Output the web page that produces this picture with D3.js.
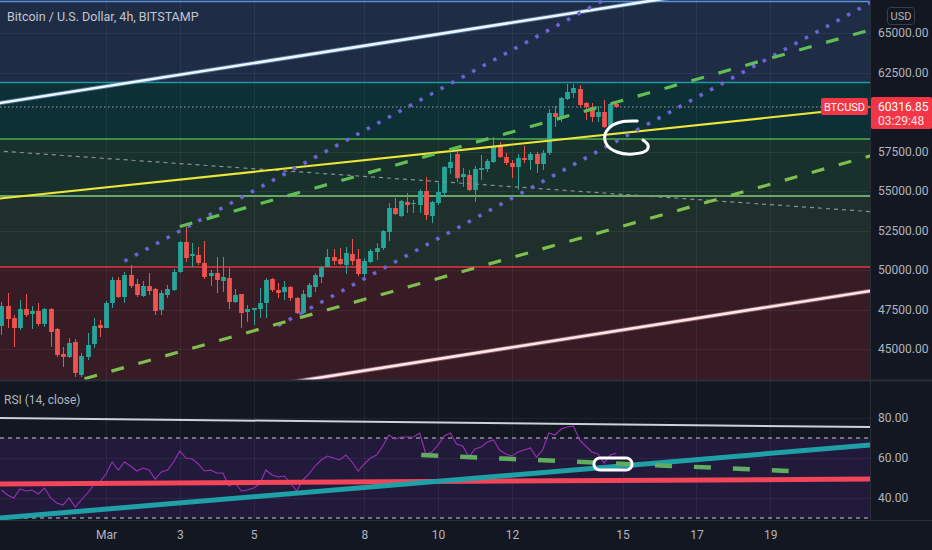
<!DOCTYPE html>
<html><head><meta charset="utf-8">
<script src="https://cdn.jsdelivr.net/npm/d3@7"></script>
<style>
html,body{margin:0;padding:0;background:#131722;}
svg{display:block;}
text{font-family:"Liberation Sans Narrow","Roboto","Liberation Sans",sans-serif;}
</style>
</head><body>
<svg id="c" width="932" height="550"></svg>
<script>
// ---------------- DATA ----------------
const title = "Bitcoin / U.S. Dollar, 4h, BITSTAMP";
const rsiTitle = "RSI (14, close)";
const firstCandle = "2021-02-26T04:00";   // 4h candles
const opens  = [46456,47722,46962,46329,47532,47216,47405,46583,47532,46266,44684,44494,45444,43356,44494,45317,46519,46329,47912,49368,48292,49684,49114,48355,48988,48798,47469,48418,48735,49874,51772,50887,50950,50444,49621,49811,49304,49494,47975,48481,47342,47469,47532,47912,49431,48735,48608,48925,48228,47279,48292,48925,49557,50190,50823,50697,50317,51013,50697,49747,50507,51140,51393,52405,53924,53418,54304,54178,54114,55001,53418,54241,54874,56456,57342,55887,56013,55064,56330,56393,56836,57912,57152,56773,56519,57089,56963,57342,56709,57405,59937,59557,60823,61203,61456,60570,60317,59684,59999,59050,60507];
const highs  = [47975,48545,47152,48102,48481,47722,47912,47595,47595,46329,45127,45697,45633,44747,46013,46962,46836,48038,49557,49557,49874,50317,49431,49304,49811,48861,48735,49051,50064,51835,52722,51709,51456,51835,50001,50823,50823,50127,48798,48481,47785,47595,48861,49494,49494,49178,49304,48988,48292,48735,49178,49811,50254,51329,51329,51393,51456,51962,51329,50760,51329,51709,52532,54241,54558,54431,54874,54431,55127,55887,54368,55507,56583,57405,57469,56456,56330,56583,57279,57026,58418,58102,57405,56963,57342,57848,57469,57469,57595,60190,60380,60950,61773,61773,61710,60633,60570,60380,60760,60570,60570];
const lows   = [45887,46329,45127,46203,47026,46266,46456,46393,45127,44494,43862,44431,43229,43229,44305,45064,45760,46329,47595,48228,47912,48861,48292,48292,48418,47152,47152,48228,48671,49811,50507,50190,50317,49431,48988,48545,48608,47532,47912,46329,46709,46519,46962,46962,48608,48228,48102,48038,47216,47216,48228,48608,49178,50190,50317,50317,49747,50317,49621,49368,50444,50634,51266,51835,53481,53355,53608,53608,53608,53165,52975,54114,54748,56077,55570,55254,55001,54304,55697,56203,56773,57089,56646,55823,55064,56773,56330,56140,56330,57279,59050,59367,60760,60887,60317,59494,59367,59367,58987,58987,60317];
const closes = [47722,46899,46329,47532,47152,47405,46583,47532,46076,44621,44494,45380,43482,44558,45254,46456,46329,47912,49368,48292,49684,48988,48418,48988,48671,47405,48545,48798,49874,51772,50760,51013,50444,49557,49811,49368,49557,47975,48418,47279,47532,47595,47912,49368,48735,48545,48925,48228,47279,48481,49051,49684,50190,50823,50570,50380,51076,50570,49747,50570,51203,51393,52469,53924,53544,54368,54114,54241,55001,53481,54304,54937,56519,56836,55823,56077,55064,56393,56456,56899,57785,57152,56773,56519,57089,56963,57342,56709,57405,59937,59684,60887,61266,61519,60444,60317,59684,59999,59050,60507,60317];
const rsiValues = [44,41.5,40,44.5,43.5,44,42,45,40,37.5,36.5,40,35.5,39,42.5,46.5,48,52,58,54,58,56,53.5,55,54,49.5,53,54,58,63.5,60,59.5,57,53.5,54,52.5,52.5,46,47.5,43.5,44,45,47,54,51.5,50.5,51,47.5,43.5,49,52,56,59,61,60,59,61.5,58,53.5,57,60,61.5,66,71.5,69.5,70.5,70.5,70.5,72.5,62,63,66.5,71,72.5,67,66,60.5,64.5,65.5,68,69,64,62,61,63,64,65,60.5,64,72.5,71.5,74.5,75.5,76,69,66,63,62,57.5,61.5,62.5];
const lastPrice = 60316.85;
const countdown = "03:29:48";
const symbol = "BTCUSD";
const currency = "USD";
const priceTicks = [45000,47500,50000,52500,55000,57500,62500,65000];
const rsiTicks = [40,60,80];
const rsiBandLevels = [70,30];
const dateTicks  = ["2021-03-01T00:00","2021-03-03T00:00","2021-03-05T00:00","2021-03-08T00:00","2021-03-10T00:00","2021-03-12T00:00","2021-03-15T00:00","2021-03-17T00:00","2021-03-19T00:00"];
const dateLabels = ["Mar","3","5","8","10","12","15","17","19"];
// horizontal zones (price from, price to)
const zones = [[61870,68000],[58290,61870],[54685,58290],[50190,54685],[40000,50190]];
// horizontal levels
const levels = [66990,61870,58290,54685,50190];
// trend lines: two anchors [time, price]
const whiteChannel  = [["2021-02-27T00:00",60890],["2021-03-20T00:00",68590]];
const pinkChannel   = [["2021-02-27T00:00",40320],["2021-03-20T00:00",48045]];
const yellowLine    = [["2021-02-27T00:00",54740],["2021-03-20T00:00",59905]];
const greyLine      = [["2021-02-27T00:00",57385],["2021-03-20T00:00",53975]];
const purpleUpper   = [["2021-03-01T12:00",50560],["2021-03-09T00:00",60100]];
const purpleLower   = [["2021-03-05T16:00",46475],["2021-03-14T00:00",57090]];
const greenUpper    = [["2021-03-03T00:00",52750],["2021-03-14T00:00",60070]];
const greenLower    = [["2021-02-28T10:00",43115],["2021-03-14T00:00",52115]];
const handCircle    = [["2021-03-15T09:30",59430],["2021-03-14T23:00",59370],["2021-03-14T15:50",59050],["2021-03-14T12:30",58544],["2021-03-14T13:50",57911],["2021-03-14T20:20",57468],["2021-03-15T06:45",57342],["2021-03-15T15:50",57595],["2021-03-15T16:30",57911],["2021-03-15T13:15",58228]];
// RSI pane lines
const rsiWhite  = [["2021-02-27T00:00",79.85],["2021-03-20T00:00",75.8]];
const rsiRed    = [["2021-02-27T00:00",47.1],["2021-03-20T00:00",49.3]];
const rsiTeal   = [["2021-02-27T00:00",31.35],["2021-03-20T00:00",63.85]];
const rsiGreen  = [["2021-03-09T13:00",61.5],["2021-03-19T12:00",53.5]];
const rsiMarker = [["2021-03-14T05:20",60],["2021-03-15T06:10",54]];

// ---------------- LAYOUT ----------------
const W = 932, H = 550, plotW = 870;
const mainH = 380, rsiTop = 381, rsiBottom = 520;
const pt = d3.utcParse("%Y-%m-%dT%H:%M");
const svg = d3.select("#c");

const x = d3.scaleUtc()
  .domain([pt("2021-02-26T03:04"), pt("2021-03-21T16:54")])
  .range([0, plotW]);
const y = d3.scaleLinear().domain([43038, 67089]).range([mainH, 0]);
const yr = d3.scaleLinear().domain([29, 99]).range([rsiBottom, rsiTop - 1]);

const t0 = pt(firstCandle).getTime();
const times = opens.map((_, i) => new Date(t0 + i * 4 * 3600e3));

svg.append("rect").attr("width", W).attr("height", H).attr("fill", "#131722");

const defs = svg.append("defs");
defs.append("clipPath").attr("id", "clipMain").append("rect")
  .attr("x", 0).attr("y", 0).attr("width", plotW).attr("height", mainH);
defs.append("clipPath").attr("id", "clipRsi").append("rect")
  .attr("x", 0).attr("y", rsiTop).attr("width", plotW).attr("height", rsiBottom - rsiTop);

const gMain = svg.append("g").attr("clip-path", "url(#clipMain)");
const gRsi = svg.append("g").attr("clip-path", "url(#clipRsi)");

// zones
const zoneFills = ["#1e2c46", "#0d2f36", "#19312c", "#1f302c", "#371c26"];
zones.forEach((z, i) => {
  gMain.append("rect").attr("x", 0).attr("width", plotW)
    .attr("y", y(z[1])).attr("height", y(z[0]) - y(z[1]))
    .attr("fill", zoneFills[i]);
});

// grid
const gridCol = "rgba(255,255,255,0.055)";
priceTicks.forEach(p => {
  gMain.append("line").attr("x1", 0).attr("x2", plotW).attr("y1", Math.round(y(p)) + 0.5).attr("y2", Math.round(y(p)) + 0.5)
    .attr("stroke", gridCol);
});
dateTicks.forEach(d => {
  const xx = Math.round(x(pt(d))) + 0.5;
  gMain.append("line").attr("x1", xx).attr("x2", xx).attr("y1", 0).attr("y2", mainH).attr("stroke", gridCol);
});

// levels
const levelCols = ["#5a8fd6", "#1f9aa3", "#4caf50", "#86cf7e", "#e8353f"];
const levelW = [1.5, 1.5, 1.3, 1.3, 1.6];
levels.forEach((p, i) => {
  gMain.append("line").attr("x1", 0).attr("x2", plotW).attr("y1", y(p)).attr("y2", y(p))
    .attr("stroke", levelCols[i]).attr("stroke-width", levelW[i]);
});

// last price line
gMain.append("line").attr("x1", 0).attr("x2", plotW).attr("y1", y(lastPrice)).attr("y2", y(lastPrice))
  .attr("stroke", "#cdbfc6").attr("stroke-width", 1).attr("stroke-dasharray", "1.5,2.5").attr("opacity", 0.8);

// candles
const up = "#26a69a", dn = "#ef5350";
const cg = gMain.append("g");
times.forEach((t, i) => {
  const cx = Math.round(x(t)) + 0.5;
  const col = closes[i] >= opens[i] ? up : dn;
  cg.append("line").attr("x1", cx).attr("x2", cx).attr("y1", y(highs[i])).attr("y2", y(lows[i]))
    .attr("stroke", col).attr("stroke-width", 1);
  const top = y(Math.max(opens[i], closes[i])), bot = y(Math.min(opens[i], closes[i]));
  cg.append("rect").attr("x", cx - 2.4).attr("width", 4.8)
    .attr("y", top).attr("height", Math.max(1, bot - top)).attr("fill", col);
});

// trend line helper
function trend(g, xs, ys, pts, ext) {
  const xa = xs(pt(pts[0][0])), ya = ys(pts[0][1]);
  const xb = xs(pt(pts[1][0])), yb = ys(pts[1][1]);
  const m = (yb - ya) / (xb - xa);
  const x0 = ext === "both" ? -20 : xa;
  const x1 = ext === "none" ? xb : plotW + 20;
  return g.append("line").attr("x1", x0).attr("y1", ya + m * (x0 - xa))
    .attr("x2", x1).attr("y2", ya + m * (x1 - xa)).attr("fill", "none");
}

trend(gMain, x, y, greyLine, "both").attr("stroke", "#8a8e98").attr("stroke-width", 1.2).attr("stroke-dasharray", "4,4");
trend(gMain, x, y, whiteChannel, "both").attr("stroke", "#7fb6e6").attr("stroke-width", 4.5).attr("opacity", 0.5);
trend(gMain, x, y, whiteChannel, "both").attr("stroke", "#eef6fd").attr("stroke-width", 2.6);
trend(gMain, x, y, pinkChannel, "both").attr("stroke", "#f3a9b3").attr("stroke-width", 4.5).attr("opacity", 0.45);
trend(gMain, x, y, pinkChannel, "both").attr("stroke", "#fde6e9").attr("stroke-width", 2.6);
trend(gMain, x, y, yellowLine, "both").attr("stroke", "#ece63a").attr("stroke-width", 2.2);
trend(gMain, x, y, purpleUpper, "right").attr("stroke", "#6d62d6").attr("stroke-width", 3.6).attr("stroke-dasharray", "3.5,8.5");
trend(gMain, x, y, purpleLower, "right").attr("stroke", "#6d62d6").attr("stroke-width", 3.6).attr("stroke-dasharray", "3.5,8.5");
trend(gMain, x, y, greenUpper, "right").attr("stroke", "#5fbf55").attr("stroke-width", 3.2).attr("stroke-dasharray", "13,15");
trend(gMain, x, y, greenLower, "right").attr("stroke", "#7fbf4e").attr("stroke-width", 3.2).attr("stroke-dasharray", "13,15");

// hand drawn circle
gMain.append("path")
  .attr("d", d3.line().x(d => x(pt(d[0]))).y(d => y(d[1])).curve(d3.curveCatmullRom)(handCircle))
  .attr("fill", "none").attr("stroke", "#ffffff").attr("stroke-width", 3).attr("stroke-linecap", "round");

// ---------------- RSI PANE ----------------
gRsi.append("rect").attr("x", 0).attr("width", plotW)
  .attr("y", yr(rsiBandLevels[0])).attr("height", yr(rsiBandLevels[1]) - yr(rsiBandLevels[0]))
  .attr("fill", "#221a3b");
rsiTicks.forEach(v => {
  gRsi.append("line").attr("x1", 0).attr("x2", plotW).attr("y1", Math.round(yr(v)) + 0.5).attr("y2", Math.round(yr(v)) + 0.5)
    .attr("stroke", gridCol);
});
dateTicks.forEach(d => {
  const xx = Math.round(x(pt(d))) + 0.5;
  gRsi.append("line").attr("x1", xx).attr("x2", xx).attr("y1", rsiTop).attr("y2", rsiBottom).attr("stroke", gridCol);
});
rsiBandLevels.forEach(v => {
  gRsi.append("line").attr("x1", 0).attr("x2", plotW).attr("y1", yr(v)).attr("y2", yr(v))
    .attr("stroke", "#c9c9d3").attr("stroke-width", 1).attr("stroke-dasharray", "4,4");
});
trend(gRsi, x, yr, rsiWhite, "both").attr("stroke", "#cfd1d8").attr("stroke-width", 2);
gRsi.append("path")
  .attr("d", d3.line().x((d, i) => x(times[i])).y(d => yr(d))(rsiValues))
  .attr("fill", "none").attr("stroke", "#9c2fb8").attr("stroke-width", 1.1);
trend(gRsi, x, yr, rsiRed, "both").attr("stroke", "#f2455a").attr("stroke-width", 5);
trend(gRsi, x, yr, rsiTeal, "both").attr("stroke", "#1fa0a6").attr("stroke-width", 5);
trend(gRsi, x, yr, rsiGreen, "none").attr("stroke", "#5fae5f").attr("stroke-width", 4.5).attr("stroke-dasharray", "17,22");
{
  const mx0 = x(pt(rsiMarker[0][0])), mx1 = x(pt(rsiMarker[1][0]));
  const my0 = yr(rsiMarker[0][1]), my1 = yr(rsiMarker[1][1]);
  gRsi.append("rect").attr("x", mx0).attr("y", my0).attr("width", mx1 - mx0).attr("height", my1 - my0)
    .attr("rx", 6).attr("fill", "none").attr("stroke", "#ffffff").attr("stroke-width", 3);
}

// pane borders
svg.append("line").attr("x1", 0).attr("x2", W).attr("y1", 380.5).attr("y2", 380.5).attr("stroke", "#2a2e39").attr("stroke-width", 2);
svg.append("line").attr("x1", 0).attr("x2", W).attr("y1", 520.5).attr("y2", 520.5).attr("stroke", "#2a2e39");
svg.append("line").attr("x1", plotW + 0.5).attr("x2", plotW + 0.5).attr("y1", 0).attr("y2", 520).attr("stroke", "#2a2e39");

// ---------------- AXES ----------------
const axisCol = "#b2b5be";
const fmt = d3.format(".2f");
const priceAxis = d3.axisRight(y).tickValues(priceTicks).tickFormat(fmt).tickSize(0).tickPadding(8);
const pa = svg.append("g").attr("transform", `translate(${plotW},0)`).call(priceAxis);
const rsiAxis = d3.axisRight(yr).tickValues(rsiTicks).tickFormat(fmt).tickSize(0).tickPadding(8);
const ra = svg.append("g").attr("transform", `translate(${plotW},0)`).call(rsiAxis);
const timeAxis = d3.axisBottom(x).tickValues(dateTicks.map(pt)).tickFormat((d, i) => dateLabels[i]).tickSize(0).tickPadding(10);
const ta = svg.append("g").attr("transform", `translate(0,${rsiBottom})`).call(timeAxis);
[pa, ra, ta].forEach(g => {
  g.select(".domain").remove();
  g.selectAll("text").attr("fill", axisCol).attr("font-size", 12)
    .style("font-family", '"Liberation Sans Narrow","Roboto","Liberation Sans",sans-serif');
});

// USD box
svg.append("rect").attr("x", 887.5).attr("y", 7.5).attr("width", 27).attr("height", 17).attr("rx", 3)
  .attr("fill", "#131722").attr("stroke", "#3a3e4a");
svg.append("text").attr("x", 901).attr("y", 20).attr("text-anchor", "middle").attr("fill", axisCol)
  .attr("font-size", 11).text(currency);

// last price label
const ly = y(lastPrice);
svg.append("rect").attr("x", plotW + 1).attr("y", ly - 10).attr("width", W - plotW - 1).attr("height", 32).attr("rx", 2).attr("fill", "#f23645");
svg.append("text").attr("x", 878).attr("y", ly + 4).attr("fill", "#ffffff").attr("font-size", 12).text(fmt(lastPrice));
svg.append("text").attr("x", 878).attr("y", ly + 18).attr("fill", "#ffe1e3").attr("font-size", 12).text(countdown);
svg.append("rect").attr("x", 821).attr("y", ly - 9).attr("width", 47).attr("height", 17).attr("rx", 2).attr("fill", "#f23645");
svg.append("line").attr("x1", 866).attr("x2", 872).attr("y1", ly).attr("y2", ly).attr("stroke", "#f23645").attr("stroke-width", 1.5);
svg.append("text").attr("x", 844.5).attr("y", ly + 4).attr("text-anchor", "middle").attr("fill", "#ffffff").attr("font-size", 11).text(symbol);

// titles
svg.append("text").attr("x", 7).attr("y", 21).attr("fill", "#c3c6ce").attr("font-size", 12.5).text(title);
svg.append("text").attr("x", 4).attr("y", 404).attr("fill", axisCol).attr("font-size", 12).text(rsiTitle);
</script>
</body></html>
